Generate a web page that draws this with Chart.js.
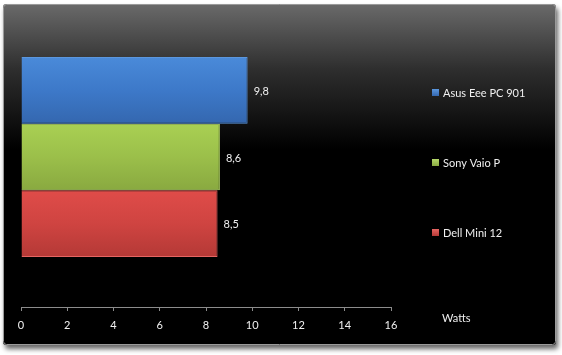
<!DOCTYPE html>
<html>
<head>
<meta charset="utf-8">
<script src="https://cdn.jsdelivr.net/npm/chart.js@4"></script>
<style>
  html, body { margin: 0; padding: 0; background: #ffffff; }
  #wrap { width: 562px; height: 355px; position: relative; }
</style>
</head>
<body>
<div id="wrap"><canvas id="c" width="562" height="355"></canvas></div>
<script>
// ---- data ----
const categories = ['Watts'];
const seriesNames = ['Asus Eee PC 901', 'Sony Vaio P', 'Dell Mini 12'];
const asusValues = [9.8];
const sonyValues = [8.6];
const dellValues = [8.5];
const xTicks = [0, 2, 4, 6, 8, 10, 12, 14, 16];
const axisTitle = 'Watts';

// ---- styles ----
const FONT = 'Lato, "Liberation Sans", sans-serif';
const CAT_PCT = 0.667;
const palettes = [
  { top: '#4a8ad9', mid: '#3d79c9', bottom: '#3467af', edge: '#5b97de' },
  { top: '#a9d053', mid: '#9bbf4a', bottom: '#89a940', edge: '#b5d86a' },
  { top: '#e04c49', mid: '#cf4441', bottom: '#b43936', edge: '#e66562' }
];

function barGradient(ctx, idx) {
  const chart = ctx.chart;
  const p = palettes[idx];
  const area = chart.chartArea;
  const ys = chart.scales && chart.scales.y;
  if (!area || !ys) return p.mid;
  const center = ys.getPixelForValue(ctx.dataIndex || 0);
  const catH = area.height / categories.length * CAT_PCT;
  const barH = catH / seriesNames.length;
  const top = center - catH / 2 + idx * barH;
  if (!isFinite(top) || !isFinite(barH)) return p.mid;
  const g = chart.ctx.createLinearGradient(0, top, 0, top + barH);
  g.addColorStop(0, p.top);
  g.addColorStop(0.5, p.mid);
  g.addColorStop(1, p.bottom);
  return g;
}

const valuesList = [asusValues, sonyValues, dellValues];
const datasets = seriesNames.map((name, i) => ({
  label: name,
  data: valuesList[i],
  backgroundColor: (ctx) => barGradient(ctx, i),
  borderColor: palettes[i].edge,
  borderWidth: 1,
  barPercentage: 1.0,
  categoryPercentage: CAT_PCT
}));

const backgroundPlugin = {
  id: 'bgPanel',
  beforeDraw(chart) {
    const ctx = chart.ctx;
    ctx.save();
    ctx.fillStyle = '#ffffff';
    ctx.fillRect(0, 0, chart.width, chart.height);
    const x = 3, y = 4, w = 553, h = 341, r = 3;
    ctx.shadowColor = 'rgba(0,0,0,0.6)';
    ctx.shadowBlur = 5;
    ctx.shadowOffsetX = 2;
    ctx.shadowOffsetY = 4;
    ctx.beginPath();
    ctx.roundRect(x, y, w, h, r);
    const g = ctx.createLinearGradient(0, y, 0, y + 145);
    g.addColorStop(0, '#6a6a6a');
    g.addColorStop(0.45, '#2e2e2e');
    g.addColorStop(1, '#000000');
    ctx.fillStyle = g;
    ctx.fill();
    ctx.shadowColor = 'transparent';
    ctx.lineWidth = 1;
    ctx.strokeStyle = '#9a9a9a';
    ctx.beginPath();
    ctx.roundRect(x + 0.5, y + 0.5, w - 1, h - 1, r);
    ctx.stroke();
    ctx.restore();
  }
};

const labelsPlugin = {
  id: 'extraText',
  afterDatasetsDraw(chart) {
    const ctx = chart.ctx;
    ctx.save();
    ctx.font = '11px ' + FONT;
    ctx.fillStyle = '#f0f0f0';
    ctx.textBaseline = 'middle';
    ctx.textAlign = 'left';
    chart.data.datasets.forEach((ds, i) => {
      const meta = chart.getDatasetMeta(i);
      meta.data.forEach((el, j) => {
        const txt = ds.data[j].toLocaleString('de-DE', { minimumFractionDigits: 1 });
        ctx.fillText(txt, el.x + 6, el.y + 1);
      });
    });
    const lx = 432, ly0 = 92, step = 70;
    chart.data.datasets.forEach((ds, i) => {
      const y = ly0 + i * step;
      const p = palettes[i];
      const g = ctx.createLinearGradient(0, y - 3, 0, y + 4);
      g.addColorStop(0, p.edge);
      g.addColorStop(1, p.bottom);
      ctx.fillStyle = g;
      ctx.fillRect(lx, y - 3, 7, 7);
      ctx.fillStyle = '#f0f0f0';
      ctx.fillText(ds.label, lx + 11, y + 1);
    });
    ctx.fillText(axisTitle, 442, 318);
    ctx.restore();
  }
};

new Chart(document.getElementById('c'), {
  type: 'bar',
  data: { labels: categories, datasets },
  plugins: [backgroundPlugin, labelsPlugin],
  options: {
    indexAxis: 'y',
    responsive: false,
    animation: false,
    events: [],
    layout: { padding: { left: 21, right: 171, top: 7, bottom: 18 } },
    plugins: { legend: { display: false }, tooltip: { enabled: false } },
    scales: {
      y: { display: false },
      x: {
        min: 0, max: 16,
        afterBuildTicks: (s) => { s.ticks = xTicks.map(v => ({ value: v })); },
        afterFit: (s) => { s.height = 30; },
        border: { display: true, color: '#8c8c8c', width: 1 },
        grid: { display: true, drawOnChartArea: false, drawTicks: true, tickLength: 4, color: '#8c8c8c' },
        ticks: { color: '#f0f0f0', font: { family: FONT, size: 11 }, padding: 8, maxRotation: 0 }
      }
    }
  }
});
</script>
</body>
</html>
